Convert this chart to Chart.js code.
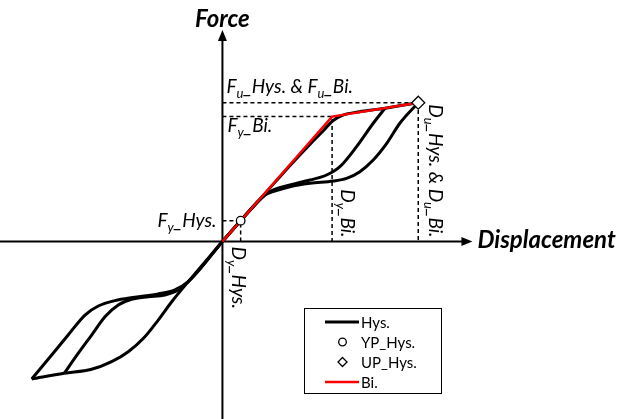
<!DOCTYPE html>
<html>
<head>
<meta charset="utf-8">
<script src="https://cdn.jsdelivr.net/npm/chart.js@4"></script>
<style>
  html, body { margin: 0; padding: 0; background: #ffffff; }
  #wrap { width: 617px; height: 419px; position: relative; }
</style>
</head>
<body>
<div id="wrap"><canvas id="c"></canvas></div>
<script>
// ---- Bilinear idealisation (red) ----
const biDisp  = [0, 56, 100];
const biForce = [0, 90, 100];

// ---- Characteristic points of the hysteresis response ----
const ypDisp  = [9.3];   // yield point (Hys.)
const ypForce = [15];
const upDisp  = [100];   // ultimate point (Hys.)
const upForce = [100];

// ---- Hysteresis curves, positive side ----
// loading envelope
const envPosDisp  = [0, 9.3, 22, 35, 45, 52, 56, 61.5, 70, 78.8, 83.2, 92, 100];
const envPosForce = [0, 15, 35, 55.5, 70.5, 80.5, 86.5, 91, 93.5, 95.2, 96, 98.2, 100];
// unloading branch of the inner cycle
const loopAPosDisp  = [0, 9.3, 21.7, 25.8, 34.5, 44.7, 53.2, 60.0, 68.5, 77.0, 83.0];
const loopAPosForce = [0, 15, 33.5, 37.1, 40.7, 44.3, 47.9, 53.9, 68.3, 85.2, 96.0];
// unloading branch of the outer cycle
const loopBPosDisp  = [0, 9.3, 21.7, 25.8, 34.5, 44.7, 56.6, 63.4, 70.2, 77.0, 83.9, 90.6, 100];
const loopBPosForce = [0, 15, 33.5, 35.9, 39.5, 41.9, 43.6, 45.5, 50.3, 58.7, 70.7, 85.2, 100];

// ---- Hysteresis curves, negative side ----
// loading envelope
const envNegDisp  = [-97.4, -80.8, -66.8, -56.6, -48.1, -39.6, -32.8, -25.9, -17.5, 0];
const envNegForce = [-99.1, -95.0, -92.1, -86.6, -79.4, -68.6, -56.6, -43.4, -29.0, 0];
// unloading branch of the inner cycle
const loopANegDisp  = [-80.8, -73.6, -66.8, -60.0, -53.2, -46.4, -37.9, -29.4, -22.6, -17.5, 0];
const loopANegForce = [-95.0, -80.5, -67.4, -54.2, -45.7, -41.6, -39.8, -38.5, -34.9, -29.0, 0];
// unloading branch of the outer cycle
const loopBNegDisp  = [-97.4, -87.2, -78.8, -70.2, -63.4, -54.9, -44.7, -32.8, -24.3, -17.5, 0];
const loopBNegForce = [-99.1, -81.8, -67.4, -53.0, -46.5, -42.6, -40.2, -37.8, -34.9, -29.0, 0];

// ---- Legend entries ----
const legendLabels = ['Hys.', 'YP_Hys.', 'UP_Hys.', 'Bi.'];

const pts = (xs, ys) => xs.map((x, i) => ({ x: x, y: ys[i] }));
const guide = (d, f) => [{ x: 0, y: f }, { x: d, y: f }, { x: d, y: 0 }];

const FONT = 'Lato, "Liberation Sans", sans-serif';
const LBL = 19;   // annotation font size

const curveStyle = {
  showLine: true, borderColor: '#000000', borderWidth: 3, pointRadius: 0,
  cubicInterpolationMode: 'monotone', fill: false, order: 3
};
const dashStyle = {
  showLine: true, borderColor: '#000000', borderWidth: 1.5, borderDash: [4, 3],
  pointRadius: 0, tension: 0, fill: false, order: 4
};

// rich text with subscripts: parts = [[text, isSub], ...]
function richWidth(ctx, parts, size, style) {
  let w = 0;
  parts.forEach(([t, sub]) => {
    ctx.font = `${style} ${sub ? Math.round(size * 0.66) : size}px ${FONT}`;
    w += ctx.measureText(t).width;
  });
  return w;
}
function drawRich(ctx, parts, x, y, size, style) {
  let cx = x;
  parts.forEach(([t, sub]) => {
    ctx.font = `${style} ${sub ? Math.round(size * 0.66) : size}px ${FONT}`;
    ctx.fillText(t, cx, sub ? y + size * 0.27 : y);
    cx += ctx.measureText(t).width;
  });
}

const decorations = {
  id: 'decorations',
  // axes with arrowheads, crossing at the origin
  beforeDatasetsDraw(chart) {
    const ctx = chart.ctx;
    const xs = chart.scales.x, ys = chart.scales.y;
    const ox = xs.getPixelForValue(0), oy = ys.getPixelForValue(0);
    const area = chart.chartArea;
    ctx.save();
    ctx.strokeStyle = '#000'; ctx.fillStyle = '#000'; ctx.lineWidth = 2;
    const xTip = ox + 250;
    ctx.beginPath(); ctx.moveTo(area.left, oy); ctx.lineTo(xTip - 8, oy); ctx.stroke();
    ctx.beginPath(); ctx.moveTo(xTip, oy); ctx.lineTo(xTip - 11, oy - 4.5); ctx.lineTo(xTip - 11, oy + 4.5); ctx.closePath(); ctx.fill();
    const yTip = oy - 211.5;
    ctx.beginPath(); ctx.moveTo(ox, area.bottom); ctx.lineTo(ox, yTip + 8); ctx.stroke();
    ctx.beginPath(); ctx.moveTo(ox, yTip); ctx.lineTo(ox - 4.5, yTip + 11); ctx.lineTo(ox + 4.5, yTip + 11); ctx.closePath(); ctx.fill();
    ctx.restore();
  },
  // axis titles, point annotations and legend
  afterDraw(chart) {
    const ctx = chart.ctx;
    const xs = chart.scales.x, ys = chart.scales.y;
    const ox = xs.getPixelForValue(0), oy = ys.getPixelForValue(0);
    ctx.save();
    ctx.fillStyle = '#000';
    ctx.textBaseline = 'alphabetic';

    ctx.font = `italic bold 24px ${FONT}`;
    ctx.textAlign = 'center';
    ctx.fillText('Force', ox, oy - 214);
    ctx.textAlign = 'left';
    ctx.fillText('Displacement', ox + 255, oy + 7);

    const fuY = ys.getPixelForValue(upForce[0]);
    const fyBiY = ys.getPixelForValue(biForce[1]);
    const fyHysY = ys.getPixelForValue(ypForce[0]);
    drawRich(ctx, [['F', 0], ['u', 1], ['_Hys. & F', 0], ['u', 1], ['_Bi.', 0]], ox + 4, fuY - 10, LBL, 'italic');
    drawRich(ctx, [['F', 0], ['y', 1], ['_Bi.', 0]], ox + 5, fyBiY + 15, LBL, 'italic');
    const fyParts = [['F', 0], ['y', 1], ['_Hys.', 0]];
    const fyW = richWidth(ctx, fyParts, LBL, 'italic');
    drawRich(ctx, fyParts, ox - 6 - fyW, fyHysY + 6, LBL, 'italic');

    // displacement annotations, reading downwards
    const rot = (parts, bx, startY, alignEnd) => {
      const w = richWidth(ctx, parts, LBL, 'italic');
      ctx.save();
      ctx.translate(bx, alignEnd ? startY - w : startY);
      ctx.rotate(Math.PI / 2);
      drawRich(ctx, parts, 0, 0, LBL, 'italic');
      ctx.restore();
    };
    rot([['D', 0], ['y', 1], ['_Hys.', 0]], xs.getPixelForValue(ypDisp[0]) - 9, oy + 5, false);
    rot([['D', 0], ['y', 1], ['_Bi.', 0]], xs.getPixelForValue(biDisp[1]) + 9, oy - 4, true);
    rot([['D', 0], ['u', 1], ['_Hys. & D', 0], ['u', 1], ['_Bi.', 0]], xs.getPixelForValue(upDisp[0]) + 11, oy - 4, true);

    // legend
    const lx = 304, ly = 308, lw = 137, lh = 85;
    ctx.lineWidth = 1;
    ctx.strokeStyle = '#000';
    ctx.fillStyle = '#fff';
    ctx.fillRect(lx, ly, lw, lh);
    ctx.strokeRect(lx + 0.5, ly + 0.5, lw, lh);
    ctx.fillStyle = '#000';
    ctx.font = `15px ${FONT}`;
    ctx.textBaseline = 'middle';
    const rows = [ly + 14, ly + 34, ly + 54, ly + 74];
    const symX = 342.5, txtX = 361;
    ctx.lineWidth = 3; ctx.beginPath(); ctx.moveTo(325, rows[0]); ctx.lineTo(359, rows[0]); ctx.stroke();
    ctx.lineWidth = 1.3; ctx.beginPath(); ctx.arc(symX, rows[1], 3.8, 0, Math.PI * 2); ctx.stroke();
    ctx.beginPath();
    ctx.moveTo(symX, rows[2] - 4.5); ctx.lineTo(symX + 4.5, rows[2]); ctx.lineTo(symX, rows[2] + 4.5); ctx.lineTo(symX - 4.5, rows[2]); ctx.closePath(); ctx.stroke();
    ctx.strokeStyle = '#ff0000'; ctx.lineWidth = 2.5;
    ctx.beginPath(); ctx.moveTo(325, rows[3]); ctx.lineTo(359, rows[3]); ctx.stroke();
    legendLabels.forEach((t, i) => ctx.fillText(t, txtX, rows[i] + 1));
    ctx.restore();
  }
};

new Chart(document.getElementById('c'), {
  type: 'scatter',
  data: {
    datasets: [
      { label: 'UP_Hys.', data: pts(upDisp, upForce), pointStyle: 'rectRot', pointRadius: 6.5,
        pointBackgroundColor: '#fff', pointBorderColor: '#000', pointBorderWidth: 1.3, order: 0 },
      { label: 'YP_Hys.', data: pts(ypDisp, ypForce), pointStyle: 'circle', pointRadius: 4.3,
        pointBackgroundColor: '#fff', pointBorderColor: '#000', pointBorderWidth: 1.3, order: 0 },
      { label: 'Bi.', data: pts(biDisp, biForce), showLine: true, borderColor: '#ff0000', borderWidth: 2.5,
        pointRadius: 0, tension: 0, order: 1 },
      Object.assign({ label: 'Hys.', data: pts(envPosDisp, envPosForce) }, curveStyle),
      Object.assign({ label: 'Hys.', data: pts(loopAPosDisp, loopAPosForce) }, curveStyle),
      Object.assign({ label: 'Hys.', data: pts(loopBPosDisp, loopBPosForce) }, curveStyle),
      Object.assign({ label: 'Hys.', data: pts(envNegDisp, envNegForce) }, curveStyle),
      Object.assign({ label: 'Hys.', data: pts(loopANegDisp, loopANegForce) }, curveStyle),
      Object.assign({ label: 'Hys.', data: pts(loopBNegDisp, loopBNegForce) }, curveStyle),
      Object.assign({ label: 'Fu guide', data: guide(upDisp[0], upForce[0]) }, dashStyle),
      Object.assign({ label: 'Fy Bi guide', data: guide(biDisp[1], biForce[1]) }, dashStyle),
      Object.assign({ label: 'Fy Hys guide', data: guide(ypDisp[0], ypForce[0]) }, dashStyle)
    ]
  },
  options: {
    responsive: true,
    maintainAspectRatio: false,
    animation: false,
    layout: { padding: 0, autoPadding: false },
    plugins: { legend: { display: false }, tooltip: { enabled: false } },
    events: [],
    scales: {
      x: { type: 'linear', display: false, min: -113.6, max: 201.5 },
      y: { type: 'linear', display: false, min: -127.9, max: 174.0 }
    }
  },
  plugins: [decorations]
});
</script>
</body>
</html>
